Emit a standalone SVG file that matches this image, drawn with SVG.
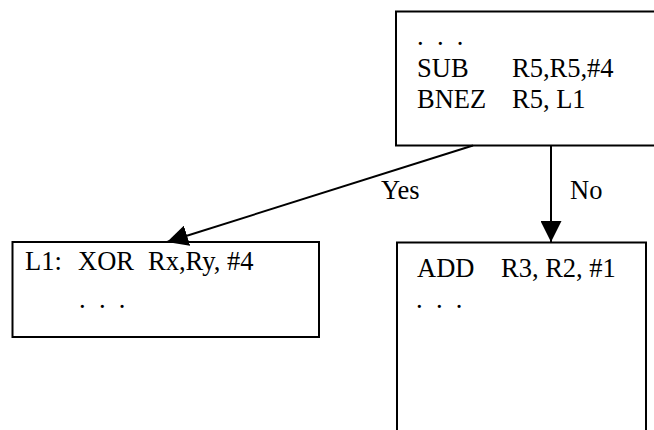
<svg xmlns="http://www.w3.org/2000/svg" width="654" height="430" viewBox="0 0 654 430">
  <style>
    .box { fill: #ffffff; stroke: #000000; stroke-width: 2; }
    .edge { fill: none; stroke: #000000; stroke-width: 2; }
    text { font-family: "Liberation Serif", "Times New Roman", serif; font-size: 26.5px; fill: #000000; white-space: pre; }
  </style>
  <defs>
    <marker id="arrow" markerUnits="userSpaceOnUse" markerWidth="21" markerHeight="21" viewBox="0 0 21 21" refX="21" refY="10.5" orient="auto">
      <path d="M0,0 L21,10.5 L0,21 Z" fill="#000000"/>
    </marker>
  </defs>

  <rect width="654" height="430" fill="#ffffff"/>

  <!-- branch block -->
  <g id="branch">
    <rect class="box" x="396" y="11.5" width="270" height="134"/>
    <text x="417" y="45">.  .  .</text>
    <text y="77"><tspan x="417">SUB</tspan><tspan x="512">R5,R5,#4</tspan></text>
    <text y="108"><tspan x="417">BNEZ</tspan><tspan x="512">R5, L1</tspan></text>
  </g>

  <!-- taken target -->
  <g id="target">
    <rect class="box" x="12.5" y="242" width="306.5" height="95"/>
    <text y="270"><tspan x="25">L1:</tspan><tspan x="78">XOR</tspan><tspan x="148">Rx,Ry, #4</tspan></text>
    <text x="79" y="308">.  .  .</text>
  </g>

  <!-- fall-through block -->
  <g id="fallthrough">
    <rect class="box" x="397" y="242.5" width="249" height="200"/>
    <text y="277"><tspan x="417">ADD</tspan><tspan x="501">R3, R2, #1</tspan></text>
    <text x="416" y="308">.  .  .</text>
  </g>

  <!-- connectors -->
  <g id="connectors">
    <line class="edge" x1="473" y1="145.5" x2="167" y2="242" marker-end="url(#arrow)"/>
    <line class="edge" x1="551" y1="145.5" x2="551" y2="242" marker-end="url(#arrow)"/>
    <text x="381" y="199">Yes</text>
    <text x="570" y="199">No</text>
  </g>
</svg>
